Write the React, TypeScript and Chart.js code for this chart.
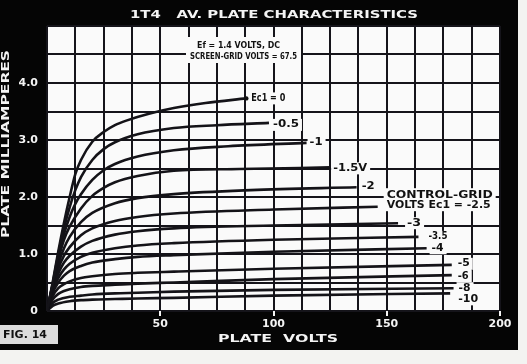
import React, { useEffect, useRef } from 'react';
import { Chart, registerables } from 'chart.js';

Chart.register(...registerables);

type Pt = [number, number];

// Control-grid bias of each curve (Ec1, volts)
const gridBias = [0, -0.5, -1, -1.5, -2, -2.5, -3, -3.5, -4, -5, -6, -8, -10];
const curveLabels = ['Ec1 = 0', '-0.5', '-1', '-1.5V', '-2', 'VOLTS Ec1 = -2.5', '-3', '-3.5', '-4', '-5', '-6', '-8', '-10'];

// [plate volts, plate milliamperes]
const ec1_0: Pt[] = [[0, 0], [2.5, 0.5], [5, 1.05], [7.5, 1.55], [10, 2.0], [12.5, 2.4], [15, 2.65], [20, 2.97], [25, 3.14], [30, 3.26], [35, 3.34], [45, 3.46], [56, 3.56], [70, 3.65], [88, 3.73]];
const ec1_m05: Pt[] = [[0, 0], [2.5, 0.48], [5, 1.0], [7.5, 1.45], [10, 1.82], [12.5, 2.12], [15, 2.35], [20, 2.65], [25, 2.84], [30, 2.96], [40, 3.1], [56, 3.21], [75, 3.26], [98, 3.3]];
const ec1_m1: Pt[] = [[0, 0], [2.5, 0.46], [5, 0.95], [7.5, 1.35], [10, 1.65], [12.5, 1.88], [15, 2.05], [20, 2.3], [25, 2.47], [30, 2.58], [40, 2.71], [56, 2.82], [80, 2.89], [114.6, 2.95]];
const ec1_m15: Pt[] = [[0, 0], [2.5, 0.45], [5, 0.9], [7.5, 1.25], [10, 1.48], [15, 1.8], [20, 2.02], [25, 2.16], [30, 2.26], [40, 2.37], [56, 2.46], [85, 2.49], [125, 2.52]];
const ec1_m2: Pt[] = [[0, 0], [2.5, 0.43], [5, 0.82], [7.5, 1.1], [10, 1.3], [15, 1.56], [20, 1.72], [30, 1.89], [40, 1.98], [56, 2.05], [90, 2.12], [136.7, 2.17]];
const ec1_m25: Pt[] = [[0, 0], [2.5, 0.4], [5, 0.74], [7.5, 0.97], [10, 1.12], [15, 1.33], [20, 1.45], [30, 1.58], [40, 1.65], [56, 1.71], [100, 1.78], [146, 1.83]];
const ec1_m3: Pt[] = [[0, 0], [2.5, 0.38], [5, 0.66], [7.5, 0.85], [10, 0.97], [15, 1.13], [20, 1.23], [30, 1.34], [40, 1.4], [56, 1.45], [100, 1.5], [155, 1.54]];
const ec1_m35: Pt[] = [[0, 0], [2.5, 0.35], [5, 0.58], [7.5, 0.73], [10, 0.83], [15, 0.95], [20, 1.02], [30, 1.1], [40, 1.15], [56, 1.19], [100, 1.25], [164, 1.3]];
const ec1_m4: Pt[] = [[0, 0], [2.5, 0.32], [5, 0.5], [7.5, 0.62], [10, 0.7], [15, 0.79], [20, 0.85], [30, 0.91], [40, 0.95], [56, 0.98], [100, 1.04], [167.6, 1.1]];
const ec1_m5: Pt[] = [[0, 0], [2.5, 0.26], [5, 0.4], [7.5, 0.47], [10, 0.52], [15, 0.58], [20, 0.61], [30, 0.65], [40, 0.67], [56, 0.69], [100, 0.74], [178.7, 0.81]];
const ec1_m6: Pt[] = [[0, 0], [2.5, 0.2], [5, 0.3], [7.5, 0.35], [10, 0.38], [15, 0.42], [20, 0.44], [30, 0.46], [40, 0.48], [56, 0.5], [100, 0.56], [178.7, 0.63]];
const ec1_m8: Pt[] = [[0, 0], [2.5, 0.14], [5, 0.2], [10, 0.25], [15, 0.27], [20, 0.29], [30, 0.31], [40, 0.32], [56, 0.34], [100, 0.37], [179.5, 0.4]];
const ec1_m10: Pt[] = [[0, 0], [2.5, 0.09], [5, 0.13], [10, 0.17], [15, 0.19], [20, 0.2], [30, 0.21], [40, 0.22], [56, 0.23], [100, 0.27], [178, 0.31]];

const curves = [ec1_0, ec1_m05, ec1_m1, ec1_m15, ec1_m2, ec1_m25, ec1_m3, ec1_m35, ec1_m4, ec1_m5, ec1_m6, ec1_m8, ec1_m10];

const xLabelValues = [50, 100, 150, 200];
const yLabelValues = [0, 1, 2, 3, 4];

const titleText = '1T4   AV. PLATE CHARACTERISTICS';
const xTitle = 'PLATE  VOLTS';
const yTitle = 'PLATE MILLIAMPERES';
const noteLine1 = 'Ef = 1.4 VOLTS, DC';
const noteLine2 = 'SCREEN-GRID VOLTS = 67.5';
const groupLabel = 'CONTROL-GRID';
const figLabel = 'FIG. 14';

// label placement relative to each curve's end point (layout only)
const labelLayout = [
  { dx: 5, dy: 0, w: 34 },
  { dx: 4, dy: 2, w: 26 },
  { dx: 3, dy: 0, w: 13 },
  { dx: 3, dy: 1, w: 34 },
  { dx: 5, dy: -1, w: 13 },
  { dx: 9, dy: -1.5, w: 104 },
  { dx: 9, dy: 0, w: 14 },
  { dx: 10, dy: 0, w: 19 },
  { dx: 5, dy: 0, w: 12 },
  { dx: 6, dy: -1, w: 12 },
  { dx: 6, dy: 1, w: 11 },
  { dx: 5, dy: 0, w: 12 },
  { dx: 8, dy: 6, w: 20 },
];

const FONT = '"DejaVu Sans", sans-serif';

function fitText(ctx: CanvasRenderingContext2D, text: string, x: number, y: number, w: number, font: string, color: string, align: CanvasTextAlign = 'left', rot = 0) {
  ctx.save();
  ctx.font = font;
  ctx.fillStyle = color;
  ctx.textBaseline = 'middle';
  ctx.textAlign = align;
  const m = ctx.measureText(text).width || 1;
  ctx.translate(x, y);
  if (rot) ctx.rotate(rot);
  ctx.scale(w / m, 1);
  ctx.fillText(text, 0, 0);
  ctx.restore();
}

const decorPlugin = {
  id: 'decor',
  beforeDraw(chart: any) {
    const { ctx, chartArea: a } = chart;
    ctx.save();
    ctx.fillStyle = '#f3f3f1';
    ctx.fillRect(0, 0, chart.width, chart.height);
    ctx.fillStyle = '#050505';
    ctx.fillRect(0, 0, 518, 350);
    ctx.fillStyle = '#fafafa';
    ctx.fillRect(a.left, a.top, a.right - a.left, a.bottom - a.top);
    ctx.restore();
  },
  afterDatasetsDraw(chart: any) {
    const { ctx } = chart;
    const xs = chart.scales.x;
    const ys = chart.scales.y;
    ctx.save();
    // note box
    ctx.fillStyle = '#fafafa';
    ctx.fillRect(186, 37, 115, 26);
    fitText(ctx, noteLine1, 197, 46, 83, `bold 9px ${FONT}`, '#111');
    fitText(ctx, noteLine2, 190, 56.5, 107, `bold 9px ${FONT}`, '#111');

    curves.forEach((c, i) => {
      const end = c[c.length - 1];
      const px = xs.getPixelForValue(end[0]);
      const py = ys.getPixelForValue(end[1]);
      const L = labelLayout[i];
      const x = px + L.dx;
      const y = py + L.dy;
      if (i === 5) {
        ctx.fillStyle = '#fafafa';
        ctx.fillRect(x - 3, y - 17, L.w + 8, 23);
        fitText(ctx, groupLabel, x, y - 9.5, 106, `bold 10px ${FONT}`, '#111');
      } else {
        ctx.fillStyle = '#fafafa';
        ctx.fillRect(x - 2, y - 6, L.w + 5, 12);
      }
      fitText(ctx, curveLabels[i], x, y, L.w, `bold 10px ${FONT}`, '#111');
    });
    // end dot on Ec1 = 0
    const e0 = ec1_0[ec1_0.length - 1];
    ctx.fillStyle = '#111';
    ctx.beginPath();
    ctx.arc(xs.getPixelForValue(e0[0]), ys.getPixelForValue(e0[1]), 2.2, 0, Math.PI * 2);
    ctx.fill();
    ctx.restore();
  },
  afterDraw(chart: any) {
    const { ctx, chartArea: a } = chart;
    const xs = chart.scales.x;
    ctx.save();
    fitText(ctx, titleText, 274, 15, 288, `bold 11px ${FONT}`, '#f4f4f4', 'center');
    fitText(ctx, xTitle, 278, 339, 120, `bold 11px ${FONT}`, '#f4f4f4', 'center');
    fitText(ctx, yTitle, 6.5, 144, 188, `bold 11px ${FONT}`, '#f4f4f4', 'center', -Math.PI / 2);
    // small white tick marks below the axis
    ctx.strokeStyle = '#f4f4f4';
    ctx.lineWidth = 2;
    xLabelValues.forEach((v) => {
      const x = Math.round(xs.getPixelForValue(v));
      ctx.beginPath();
      ctx.moveTo(x, a.bottom);
      ctx.lineTo(x, a.bottom + 5);
      ctx.stroke();
    });
    // FIG label
    ctx.fillStyle = '#dcdcdc';
    ctx.fillRect(0, 325, 58, 19);
    fitText(ctx, figLabel, 3, 335, 44, `bold 11px ${FONT}`, '#111');
    ctx.restore();
  },
};

export default function App() {
  const ref = useRef<HTMLCanvasElement | null>(null);
  useEffect(() => {
    if (!ref.current) return;
    const chart = new Chart(ref.current, {
      type: 'line',
      data: {
        datasets: curves.map((c, i) => ({
          label: `Ec1 ${gridBias[i]}`,
          data: c.map(([x, y]) => ({ x, y })),
          borderColor: '#141318',
          borderWidth: 2.6,
          pointRadius: 0,
          fill: false,
          cubicInterpolationMode: 'monotone' as const,
        })),
      },
      options: {
        animation: false,
        responsive: false,
        devicePixelRatio: 1,
        layout: { padding: { top: 26, right: 27, left: 0, bottom: 0 } },
        plugins: { legend: { display: false }, tooltip: { enabled: false }, title: { display: false } },
        scales: {
          x: {
            type: 'linear',
            min: 0,
            max: 200,
            border: { display: false },
            grid: { color: '#15141a', lineWidth: 2, drawTicks: false },
            ticks: {
              stepSize: 12.5,
              autoSkip: false,
              maxRotation: 0,
              padding: 7,
              color: '#f4f4f4',
              font: { family: FONT, size: 11, weight: 'bold' },
              callback: (v: any) => (xLabelValues.includes(Number(v)) ? String(v) : ''),
            },
            afterFit: (s: any) => { s.height = 53; },
          },
          y: {
            type: 'linear',
            min: 0,
            max: 5,
            border: { display: false },
            grid: { color: '#15141a', lineWidth: 2, drawTicks: false },
            ticks: {
              stepSize: 0.5,
              autoSkip: false,
              padding: 9,
              color: '#f4f4f4',
              font: { family: FONT, size: 11, weight: 'bold' },
              callback: (v: any) => {
                const n = Number(v);
                if (!yLabelValues.includes(n)) return '';
                return n === 0 ? '0' : n.toFixed(1);
              },
            },
            afterFit: (s: any) => { s.width = 47; },
          },
        },
      } as any,
      plugins: [decorPlugin],
    });
    return () => chart.destroy();
  }, []);
  return (
    <div style={{ position: 'absolute', left: 0, top: 0, width: 527, height: 364 }}>
      <canvas ref={ref} width={527} height={364} />
    </div>
  );
}
